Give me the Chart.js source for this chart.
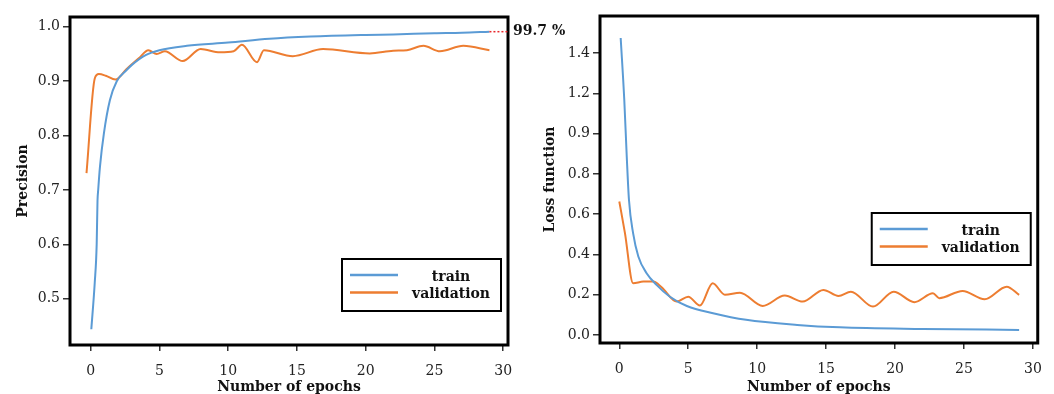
<!DOCTYPE html>
<html>
<head>
<meta charset="utf-8">
<script src="https://cdn.jsdelivr.net/npm/chart.js@4.4.0/dist/chart.umd.min.js"></script>
<style>
  html, body { margin: 0; padding: 0; background: #fff; }
  #wrap { position: relative; width: 1054px; height: 394px; overflow: hidden; }
  #graficoPrecisao { position: absolute; left: 0; top: 0; }
  #graficoPerda { position: absolute; left: 530px; top: 0; }
</style>
</head>
<body>
<div id="wrap">
  <canvas id="graficoPrecisao" width="600" height="394"></canvas>
  <canvas id="graficoPerda" width="524" height="394"></canvas>
</div>
<script>
// ---- Precisão (gráfico da esquerda) ----
const epocasTreinoPrec = [0.05, 0.3, 0.44, 0.5, 0.55, 0.68, 0.97, 1.4, 1.9, 2.6, 3, 4, 5, 7, 10, 13, 16, 20, 22, 25, 27, 29];
const treinoPrec = [0.444, 0.53, 0.60, 0.68, 0.70, 0.743, 0.805, 0.865, 0.90, 0.92, 0.93, 0.948, 0.957, 0.965, 0.971, 0.978, 0.982, 0.985, 0.986, 0.988, 0.989, 0.991];
const epocasValPrec = [-0.3, 0.3, 0.6, 1.1, 1.8, 2.6, 3.5, 4.2, 4.8, 5.4, 6.7, 8.0, 9.4, 10.4, 11.0, 12.1, 12.6, 14.7, 16.9, 20.3, 22.0, 23.0, 24.2, 25.4, 27.1, 29];
const validacaoPrec = [0.731, 0.905, 0.913, 0.910, 0.903, 0.922, 0.942, 0.957, 0.950, 0.955, 0.937, 0.959, 0.953, 0.955, 0.967, 0.935, 0.957, 0.946, 0.959, 0.951, 0.956, 0.957, 0.965, 0.955, 0.965, 0.957];
const ticksPrec = [0.5, 0.6, 0.7, 0.8, 0.9, 1.0];
const rotulosPrec = ["0.5", "0.6", "0.7", "0.8", "0.9", "1.0"];
const rotuloFinal = "99.7 %";

// ---- Perda (gráfico da direita) ----
const epocasTreinoPerda = [0.1, 0.36, 0.54, 0.7, 1.0, 1.38, 1.98, 2.7, 3.67, 4.9, 6.8, 9.2, 12.9, 16, 22, 29];
const treinoPerda = [1.476, 1.17, 0.887, 0.672, 0.506, 0.39, 0.307, 0.249, 0.19, 0.144, 0.108, 0.075, 0.05, 0.038, 0.03, 0.025];
const epocasValPerda = [0, 0.41, 1.0, 1.74, 2.46, 3.07, 4.16, 5.0, 5.85, 6.77, 7.66, 8.75, 10.4, 12.0, 13.3, 14.8, 15.9, 16.8, 18.4, 19.9, 21.4, 22.75, 23.2, 24.9, 26.5, 28.1, 29];
const validacaoPerda = [0.663, 0.506, 0.257, 0.265, 0.265, 0.237, 0.166, 0.19, 0.146, 0.257, 0.2, 0.21, 0.144, 0.196, 0.166, 0.224, 0.194, 0.215, 0.141, 0.215, 0.163, 0.207, 0.183, 0.219, 0.178, 0.24, 0.199];
const ticksPerda = [0, 0.2, 0.4, 0.6, 0.8, 1.0, 1.2, 1.4];
const rotulosPerda = ["0.0", "0.2", "0.4", "0.6", "0.8", "0.9", "1.2", "1.4"];

const ticksEpocas = [0, 5, 10, 15, 20, 25, 30];
const nomesSeries = ["train", "validation"];
const azul = "#5b9bd5";
const laranja = "#ed7d31";
const fonteSerif = '"DejaVu Serif", serif';

function pontos(xs, ys) {
  return xs.map((x, i) => ({ x: x, y: ys[i] }));
}

// moldura preta em volta da área do gráfico
const moldura = {
  id: "moldura",
  afterDraw(chart) {
    const { ctx, chartArea: a } = chart;
    ctx.save();
    ctx.strokeStyle = "#000";
    ctx.lineWidth = 3;
    ctx.strokeRect(a.left, a.top, a.right - a.left, a.bottom - a.top);
    ctx.restore();
  }
};

// legenda com caixa, dentro da área
const legendaCaixa = {
  id: "legendaCaixa",
  afterDraw(chart, args, opts) {
    const { ctx, chartArea } = chart;
    const w = 159, h = 52;
    const x0 = chartArea.right - 7 - w;
    const y0 = chartArea.bottom - opts.distancia - h;
    ctx.save();
    ctx.fillStyle = "#fff";
    ctx.fillRect(x0, y0, w, h);
    ctx.lineWidth = 2;
    ctx.strokeStyle = "#000";
    ctx.strokeRect(x0, y0, w, h);
    chart.data.datasets.forEach((ds, i) => {
      const y = y0 + 16 + i * 17.5;
      ctx.strokeStyle = ds.borderColor;
      ctx.lineWidth = 2.5;
      ctx.beginPath();
      ctx.moveTo(x0 + 8, y);
      ctx.lineTo(x0 + 56, y);
      ctx.stroke();
      ctx.fillStyle = "#111";
      ctx.font = "bold 14px " + fonteSerif;
      ctx.textAlign = "center";
      ctx.textBaseline = "middle";
      ctx.fillText(ds.label, x0 + 109, y + 2);
    });
    ctx.restore();
  }
};

// linha pontilhada vermelha e rótulo do valor final
const marcaFinal = {
  id: "marcaFinal",
  afterDraw(chart) {
    const { ctx, chartArea } = chart;
    const meta = chart.getDatasetMeta(0);
    const ultimo = meta.data[meta.data.length - 1];
    ctx.save();
    ctx.strokeStyle = "#e8262a";
    ctx.lineWidth = 1.5;
    ctx.setLineDash([2, 2]);
    ctx.beginPath();
    ctx.moveTo(ultimo.x, ultimo.y);
    ctx.lineTo(chartArea.right, ultimo.y);
    ctx.stroke();
    ctx.setLineDash([]);
    ctx.fillStyle = "#111";
    ctx.font = "bold 14px " + fonteSerif;
    ctx.textAlign = "left";
    ctx.textBaseline = "middle";
    ctx.fillText(rotuloFinal, chartArea.right + 5, ultimo.y);
    ctx.restore();
  }
};

function opcoes(cfg) {
  return {
    responsive: false,
    animation: false,
    layout: { padding: { top: cfg.topo, right: cfg.direita, left: 0, bottom: 0 } },
    plugins: {
      legend: { display: false },
      tooltip: { enabled: false },
      legendaCaixa: { distancia: cfg.legendaDist }
    },
    elements: { point: { radius: 0 } },
    scales: {
      x: {
        type: "linear",
        min: cfg.xMin,
        max: 30.35,
        afterBuildTicks: (s) => { s.ticks = ticksEpocas.map(v => ({ value: v })); },
        afterFit: (s) => { s.height = cfg.alturaX; },
        border: { display: false },
        grid: { drawOnChartArea: false, drawTicks: true, tickLength: 6, color: "#333", lineWidth: 1.5 },
        ticks: { color: "#222", padding: 12, maxRotation: 0, font: { family: fonteSerif, size: 14 } },
        title: {
          display: true,
          text: "Number of epochs",
          color: "#111",
          padding: { top: 0, bottom: 0 },
          font: { family: fonteSerif, size: 14, weight: "bold", lineHeight: 1 }
        }
      },
      y: {
        min: cfg.yMin,
        max: cfg.yMax,
        afterBuildTicks: (s) => { s.ticks = cfg.ticks.map(v => ({ value: v })); },
        afterFit: (s) => { s.width = 70; },
        border: { display: false },
        grid: { drawOnChartArea: false, drawTicks: true, tickLength: 7, color: "#333", lineWidth: 1.5 },
        ticks: {
          color: "#222",
          padding: 3,
          font: { family: fonteSerif, size: 14 },
          callback: (v) => cfg.rotulos[cfg.ticks.findIndex(t => Math.abs(t - v) < 1e-6)]
        },
        title: {
          display: true,
          text: cfg.tituloY,
          color: "#111",
          padding: { top: cfg.tituloPad, bottom: 0 },
          font: { family: fonteSerif, size: 14, weight: "bold", lineHeight: 1 }
        }
      }
    }
  };
}

function serie(label, dados, cor) {
  return {
    label: label,
    data: dados,
    borderColor: cor,
    backgroundColor: cor,
    borderWidth: 2,
    cubicInterpolationMode: "monotone",
    fill: false
  };
}

new Chart(document.getElementById("graficoPrecisao").getContext("2d"), {
  type: "line",
  data: {
    datasets: [
      serie(nomesSeries[0], pontos(epocasTreinoPrec, treinoPrec), azul),
      serie(nomesSeries[1], pontos(epocasValPrec, validacaoPrec), laranja)
    ]
  },
  options: opcoes({
    topo: 17, direita: 92, alturaX: 49, xMin: -1.5,
    yMin: 0.415, yMax: 1.018, ticks: ticksPrec, rotulos: rotulosPrec,
    tituloY: "Precision", tituloPad: 16, legendaDist: 34
  }),
  plugins: [moldura, marcaFinal, legendaCaixa]
});

new Chart(document.getElementById("graficoPerda").getContext("2d"), {
  type: "line",
  data: {
    datasets: [
      serie(nomesSeries[0], pontos(epocasTreinoPerda, treinoPerda), azul),
      serie(nomesSeries[1], pontos(epocasValPerda, validacaoPerda), laranja)
    ]
  },
  options: opcoes({
    topo: 16, direita: 16, alturaX: 51, xMin: -1.4,
    yMin: -0.04, yMax: 1.585, ticks: ticksPerda, rotulos: rotulosPerda,
    tituloY: "Loss function", tituloPad: 13, legendaDist: 78
  }),
  plugins: [moldura, legendaCaixa]
});
</script>
</body>
</html>
